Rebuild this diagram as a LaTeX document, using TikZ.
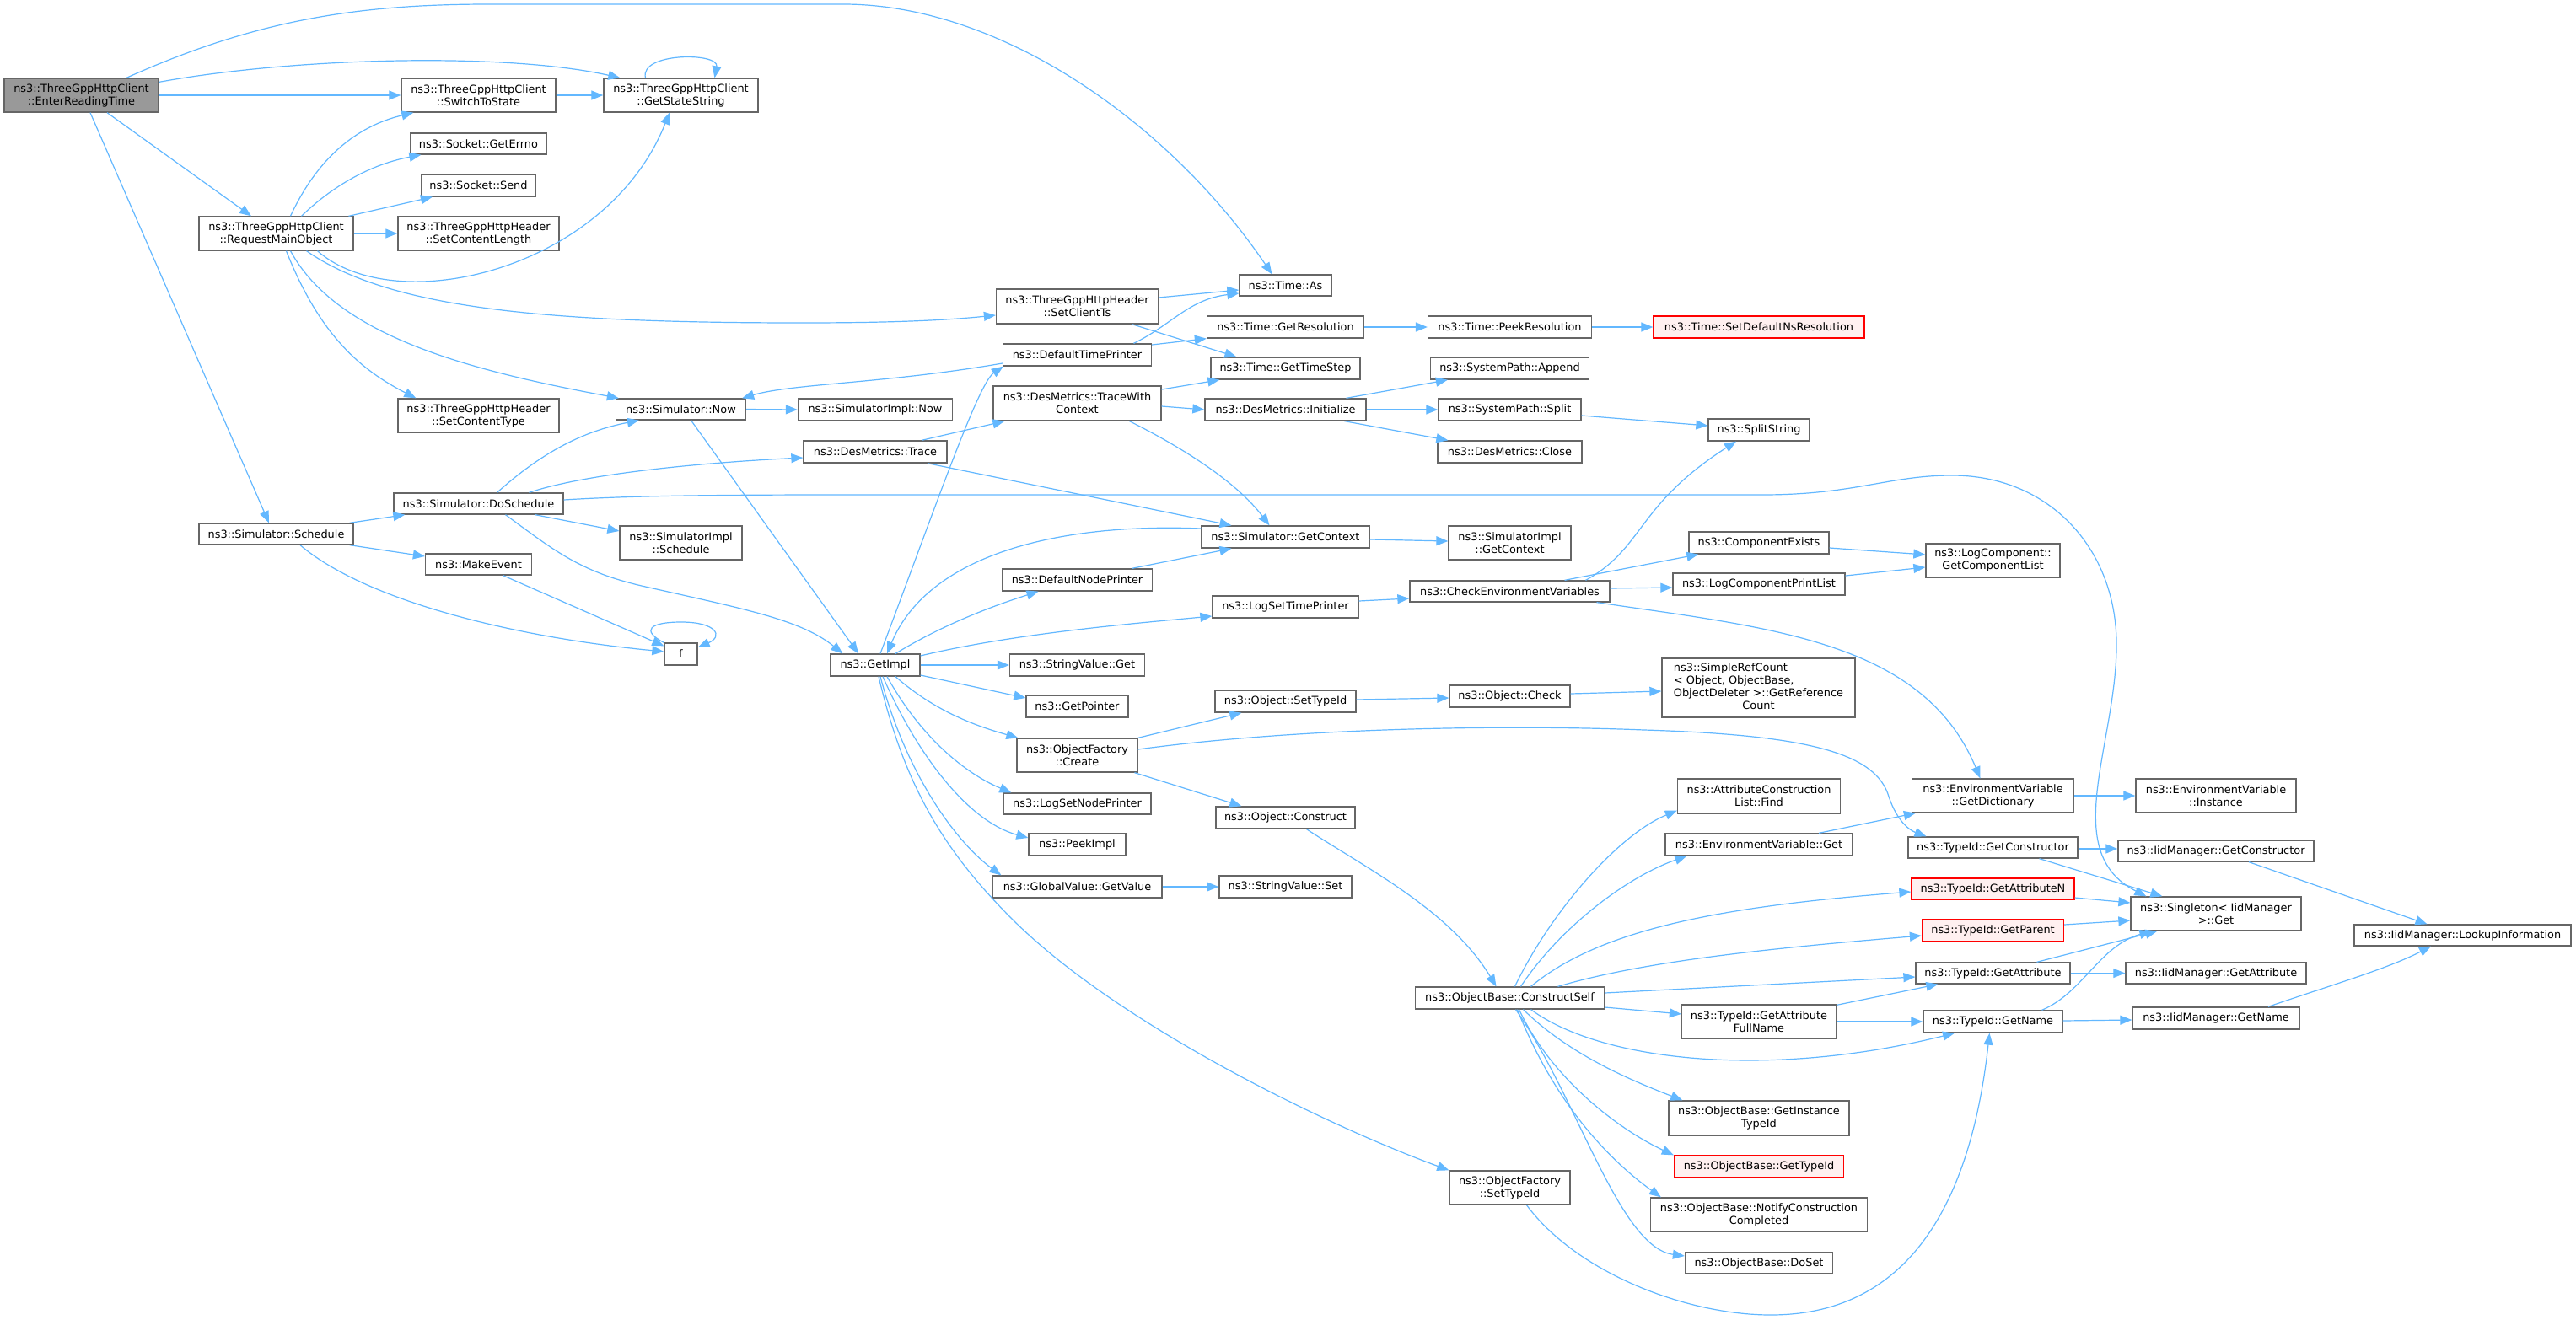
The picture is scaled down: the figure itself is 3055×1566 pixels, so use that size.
\documentclass[tikz,border=0pt]{standalone}
\usepackage{fontspec}
\setmainfont{DejaVu Sans}
\usetikzlibrary{arrows.meta}
\definecolor{edgec}{HTML}{63B8FF}
\definecolor{boxc}{HTML}{666666}
\definecolor{rootc}{HTML}{999999}
\definecolor{redfill}{HTML}{FFF0F0}
\tikzset{
 box/.style={draw=boxc, line width=1.3pt, fill=white, inner sep=0pt, align=center, font=\fontsize{12.9}{15}\selectfont},
 rootbox/.style={box, fill=rootc},
 redbox/.style={box, draw=red},
 redbox/.append style={fill=redfill},
 edge/.style={draw=edgec, line width=1.2pt, -{Triangle[length=14pt,width=11pt]}},
}
\begin{document}
\begin{tikzpicture}[x=1pt,y=-1pt]
\fill[white] (0,0) rectangle (3055,1566);
\useasboundingbox (0,0) rectangle (3055,1566);
% nodes
\node[rootbox,minimum width=183,minimum height=40] (ert) at (96.5,113) {ns3::ThreeGppHttpClient\\::EnterReadingTime};
\node[box,minimum width=183,minimum height=40] (sts) at (567.5,113) {ns3::ThreeGppHttpClient\\::SwitchToState};
\node[box,minimum width=183,minimum height=40] (gss) at (807.5,113) {ns3::ThreeGppHttpClient\\::GetStateString};
\node[box,minimum width=161,minimum height=25] (errno) at (567.5,170.5) {ns3::Socket::GetErrno};
\node[box,minimum width=136,minimum height=26] (send) at (567.5,220) {ns3::Socket::Send};
\node[box,minimum width=183,minimum height=40] (rmo) at (327.5,277) {ns3::ThreeGppHttpClient\\::RequestMainObject};
\node[box,minimum width=191,minimum height=40] (scl) at (567.5,277) {ns3::ThreeGppHttpHeader\\::SetContentLength};
\node[box,minimum width=191,minimum height=40] (sct) at (567.5,493) {ns3::ThreeGppHttpHeader\\::SetContentType};
\node[box,minimum width=154,minimum height=25] (snow) at (807.5,485.5) {ns3::Simulator::Now};
\node[box,minimum width=183,minimum height=26] (sinow) at (1038,486) {ns3::SimulatorImpl::Now};
\node[box,minimum width=183,minimum height=25] (sched) at (327.5,633.5) {ns3::Simulator::Schedule};
\node[box,minimum width=201,minimum height=25] (dosch) at (567.5,597.5) {ns3::Simulator::DoSchedule};
\node[box,minimum width=145,minimum height=40] (sisch) at (807.5,644) {ns3::SimulatorImpl\\::Schedule};
\node[box,minimum width=126,minimum height=25] (mkev) at (567.5,669.5) {ns3::MakeEvent};
\node[box,minimum width=39,minimum height=26] (f) at (807.5,776) {f};
\node[box,minimum width=109,minimum height=25] (timeas) at (1524.5,338.5) {ns3::Time::As};
\node[box,minimum width=192,minimum height=41] (sclts) at (1277.5,363.5) {ns3::ThreeGppHttpHeader\\::SetClientTs};
\node[box,minimum width=186,minimum height=26] (getres) at (1524.5,388) {ns3::Time::GetResolution};
\node[box,minimum width=194,minimum height=26] (peekres) at (1790.5,388) {ns3::Time::PeekResolution};
\node[redbox,minimum width=250,minimum height=26] (setdef) at (2086,388) {ns3::Time::SetDefaultNsResolution};
\node[box,minimum width=176,minimum height=26] (dtp) at (1277.5,421) {ns3::DefaultTimePrinter};
\node[box,minimum width=177,minimum height=26] (gts) at (1524.5,437) {ns3::Time::GetTimeStep};
\node[box,minimum width=188,minimum height=26] (append) at (1790.5,437) {ns3::SystemPath::Append};
\node[box,minimum width=199,minimum height=41] (twc) at (1277.5,478.5) {ns3::DesMetrics::TraceWith\\Context};
\node[box,minimum width=191,minimum height=26] (dminit) at (1524.5,486) {ns3::DesMetrics::Initialize};
\node[box,minimum width=169,minimum height=26] (split) at (1790.5,486) {ns3::SystemPath::Split};
\node[box,minimum width=170,minimum height=26] (dmtrace) at (1038,536) {ns3::DesMetrics::Trace};
\node[box,minimum width=171,minimum height=26] (close) at (1790.5,536) {ns3::DesMetrics::Close};
\node[box,minimum width=120,minimum height=26] (splitstr) at (2086,510) {ns3::SplitString};
\node[box,minimum width=199,minimum height=26] (getctx) at (1524.5,637) {ns3::Simulator::GetContext};
\node[box,minimum width=145,minimum height=40] (sigetctx) at (1790.5,644) {ns3::SimulatorImpl\\::GetContext};
\node[box,minimum width=178,minimum height=26] (dnp) at (1277.5,688) {ns3::DefaultNodePrinter};
\node[box,minimum width=173,minimum height=26] (lstp) at (1524.5,720) {ns3::LogSetTimePrinter};
\node[box,minimum width=237,minimum height=25] (cev) at (1790.5,701.5) {ns3::CheckEnvironmentVariables};
\node[box,minimum width=166,minimum height=26] (compex) at (2086,644) {ns3::ComponentExists};
\node[box,minimum width=159,minimum height=40] (gcl) at (2363.5,665) {ns3::LogComponent::\\GetComponentList};
\node[box,minimum width=204,minimum height=26] (lcpl) at (2086,693) {ns3::LogComponentPrintList};
\node[box,minimum width=106,minimum height=26] (getimpl) at (1038,789) {ns3::GetImpl};
\node[box,minimum width=160,minimum height=26] (svget) at (1277.5,789) {ns3::StringValue::Get};
\node[box,minimum width=121,minimum height=26] (getptr) at (1277.5,838) {ns3::GetPointer};
\node[box,minimum width=167,minimum height=26] (osettid) at (1524.5,832) {ns3::Object::SetTypeId};
\node[box,minimum width=143,minimum height=26] (ocheck) at (1790.5,826) {ns3::Object::Check};
\node[box,minimum width=229,minimum height=70] (srefc) at (2085.5,816) {\begin{tabular}{@{}l@{}}ns3::SimpleRefCount\\< Object, ObjectBase,\\ObjectDeleter >::GetReference\\\multicolumn{1}{@{}c@{}}{Count}\end{tabular}};
\node[box,minimum width=143,minimum height=40] (ofcreate) at (1277.5,896) {ns3::ObjectFactory\\::Create};
\node[box,minimum width=175,minimum height=25] (lsnp) at (1277.5,953.5) {ns3::LogSetNodePrinter};
\node[box,minimum width=165,minimum height=26] (oconstruct) at (1524.5,970) {ns3::Object::Construct};
\node[box,minimum width=115,minimum height=26] (peekimpl) at (1277.5,1002) {ns3::PeekImpl};
\node[box,minimum width=201,minimum height=26] (gvget) at (1277.5,1052) {ns3::GlobalValue::GetValue};
\node[box,minimum width=157,minimum height=26] (svset) at (1524.5,1052) {ns3::StringValue::Set};
\node[box,minimum width=193,minimum height=41] (acfind) at (2086,944.5) {ns3::AttributeConstruction\\List::Find};
\node[box,minimum width=222,minimum height=26] (envget) at (2086,1002) {ns3::EnvironmentVariable::Get};
\node[box,minimum width=192,minimum height=40] (getdict) at (2363.5,944) {ns3::EnvironmentVariable\\::GetDictionary};
\node[box,minimum width=190,minimum height=40] (instance) at (2628,944) {ns3::EnvironmentVariable\\::Instance};
\node[box,minimum width=201,minimum height=25] (tidgetctor) at (2363.5,1005.5) {ns3::TypeId::GetConstructor};
\node[box,minimum width=232,minimum height=25] (iidgetctor) at (2628,1009.5) {ns3::IidManager::GetConstructor};
\node[redbox,minimum width=193,minimum height=25] (getattrn) at (2363.5,1054.5) {ns3::TypeId::GetAttributeN};
\node[box,minimum width=202,minimum height=40] (singleton) at (2628,1084) {ns3::Singleton< IidManager\\>::Get};
\node[redbox,minimum width=168,minimum height=26] (getparent) at (2363.5,1104) {ns3::TypeId::GetParent};
\node[box,minimum width=257,minimum height=25] (lookup) at (2920.5,1109.5) {ns3::IidManager::LookupInformation};
\node[box,minimum width=183,minimum height=25] (tidgetattr) at (2363.5,1154.5) {ns3::TypeId::GetAttribute};
\node[box,minimum width=214,minimum height=25] (iidgetattr) at (2628,1154.5) {ns3::IidManager::GetAttribute};
\node[box,minimum width=183,minimum height=40] (gafn) at (2086,1212) {ns3::TypeId::GetAttribute\\FullName};
\node[box,minimum width=165,minimum height=26] (tidgetname) at (2363.5,1212) {ns3::TypeId::GetName};
\node[box,minimum width=198,minimum height=26] (iidgetname) at (2628,1208) {ns3::IidManager::GetName};
\node[box,minimum width=224,minimum height=26] (cself) at (1790.5,1184) {ns3::ObjectBase::ConstructSelf};
\node[box,minimum width=214,minimum height=41] (gitid) at (2086,1326.5) {ns3::ObjectBase::GetInstance\\TypeId};
\node[redbox,minimum width=201,minimum height=26] (obgettid) at (2086,1384) {ns3::ObjectBase::GetTypeId};
\node[box,minimum width=257,minimum height=40] (notify) at (2086,1441) {ns3::ObjectBase::NotifyConstruction\\Completed};
\node[box,minimum width=175,minimum height=25] (doset) at (2086,1498.5) {ns3::ObjectBase::DoSet};
\node[box,minimum width=143,minimum height=40] (oftid) at (1790.5,1409) {ns3::ObjectFactory\\::SetTypeId};
% edges
\draw[edge] ([xshift=53.5]ert.north) .. controls (300,25) and (420,5) .. (580,5) -- (1000,5) .. controls (1190,5) and (1390,150) .. ([xshift=-16]timeas.north);
\draw[edge] ([yshift=-5]ert.north east) .. controls (350,68) and (600,62) .. ([xshift=20]gss.north west);
\draw[edge] (ert.east) -- (sts.west);
\draw[edge] ([xshift=30.5]ert.south) -- ([xshift=-29.5]rmo.north);
\draw[edge] ([xshift=10.5]ert.south) -- ([xshift=-8.5]sched.north);
\draw[edge] (sts.east) -- (gss.west);
\draw[edge] ([xshift=-42]gss.north) .. controls (758,62) and (853,62) .. ([xshift=40]gss.north);
\draw[edge] ([xshift=17]rmo.north) .. controls (380,180) and (430,148) .. ([xshift=15]sts.south west);
\draw[edge] ([xshift=30]rmo.north) .. controls (395,220) and (440,195) .. ([xshift=13]errno.south west);
\draw[edge] ([xshift=86]rmo.north) -- ([xshift=14]send.south west);
\draw[edge] (rmo.east) -- (scl.west);
\draw[edge] ([xshift=49]rmo.south) .. controls (470,380) and (720,320) .. ([xshift=-13.5]gss.south);
\draw[edge] ([xshift=36]rmo.south) .. controls (460,365) and (640,383) .. (950,383) .. controls (1060,383) and (1120,380) .. ([yshift=-10.5]sclts.west);
\draw[edge] ([xshift=17]rmo.south) .. controls (400,400) and (560,440) .. ([xshift=4]snow.north west);
\draw[edge] ([xshift=12]rmo.south) .. controls (380,400) and (430,440) .. ([xshift=22]sct.north west);
\draw[edge] (snow.east) -- (sinow.west);
\draw[edge] ([xshift=12]snow.south) -- ([xshift=-20]getimpl.north);
\draw[edge] ([xshift=-5]sched.north east) -- ([xshift=14]dosch.south west);
\draw[edge] ([xshift=-5]sched.south east) -- ([yshift=9.5]mkev.west);
\draw[edge] ([xshift=28.5]sched.south) .. controls (430,710) and (600,755) .. ([yshift=3]f.west);
\draw[edge] ([xshift=29]mkev.south) -- ([yshift=-4]f.north west);
\draw[edge] (f.north west) .. controls (760,748) and (770,738) .. (808,738) .. controls (850,738) and (858,755) .. ([yshift=8]f.east);
\draw[edge] ([xshift=22]dosch.north) .. controls (650,530) and (700,510) .. ([xshift=28]snow.south west);
\draw[edge] ([xshift=60]dosch.north) .. controls (700,560) and (850,548) .. ([yshift=-7]dmtrace.west);
\draw[edge] ([yshift=4.5]dosch.east) .. controls (750,588) and (850,587) .. (1000,587) -- (2090,587) .. controls (2200,587) and (2240,564) .. (2315,564) .. controls (2430,564) and (2508,650) .. (2510,760) .. controls (2512,880) and (2440,1010) .. ([xshift=19]singleton.north west);
\draw[edge] ([xshift=67]dosch.south) -- ([yshift=14]sisch.west);
\draw[edge] ([xshift=32]dosch.south) .. controls (660,655) and (690,680) .. (770,697) .. controls (880,722) and (950,735) .. ([xshift=15]getimpl.north west);
\draw[edge] ([xshift=55]dmtrace.north) -- ([xshift=14]twc.south west);
\draw[edge] ([xshift=62]dmtrace.south) -- ([xshift=-64]getctx.north);
\draw[edge] ([yshift=16.5]twc.east) -- ([xshift=11]gts.south west);
\draw[edge] ([yshift=-3.5]twc.east) -- (dminit.west);
\draw[edge] ([xshift=62]twc.south) .. controls (1400,530) and (1465,570) .. ([xshift=-19]getctx.north);
\draw[edge] ([xshift=72]dminit.north) -- ([xshift=21]append.south west);
\draw[edge] (dminit.east) -- (split.west);
\draw[edge] ([xshift=70]dminit.south) -- ([xshift=13]close.north west);
\draw[edge] ([yshift=-7]split.east) -- ([yshift=5]splitstr.west);
\draw[edge] ([yshift=10.5]sclts.east) -- ([yshift=-5.5]timeas.west);
\draw[edge] ([xshift=65]sclts.south) -- ([xshift=31]gts.north west);
\draw[edge] ([xshift=67]dtp.north) .. controls (1390,385) and (1410,355) .. ([yshift=-9.5]timeas.west);
\draw[edge] ([yshift=12]dtp.east) -- (getres.south west);
\draw[edge] ([yshift=-10]dtp.west) .. controls (1050,455) and (940,455) .. ([xshift=-5]snow.north east);
\draw[edge] (getres.east) -- (peekres.west);
\draw[edge] (peekres.east) -- (setdef.west);
\draw[edge] ([xshift=6]getimpl.north) .. controls (1110,600) and (1160,455) .. ([xshift=1]dtp.south west);
\draw[edge] ([yshift=10]getctx.west) .. controls (1250,620) and (1100,660) .. ([xshift=14]getimpl.north);
\draw[edge] ([xshift=24]getimpl.north) .. controls (1120,740) and (1180,718) .. ([xshift=-46]dnp.south);
\draw[edge] ([yshift=11]getimpl.east) .. controls (1200,752) and (1340,740) .. ([yshift=-11]lstp.west);
\draw[edge] (getimpl.east) -- (svget.west);
\draw[edge] ([yshift=-12]getimpl.east) -- ([yshift=10]getptr.west);
\draw[edge] ([xshift=24]getimpl.south) .. controls (1110,845) and (1160,862) .. ([xshift=2]ofcreate.north west);
\draw[edge] ([xshift=14]getimpl.south) .. controls (1095,880) and (1150,920) .. ([xshift=10]lsnp.north west);
\draw[edge] ([xshift=9]getimpl.south) .. controls (1090,900) and (1150,975) .. ([yshift=8]peekimpl.west);
\draw[edge] ([xshift=6]getimpl.south) .. controls (1075,920) and (1135,1000) .. ([xshift=11]gvget.north west);
\draw[edge] ([xshift=4]getimpl.south) .. controls (1070,920) and (1110,1000) .. (1200,1090) .. controls (1320,1210) and (1560,1330) .. (oftid.north west);
\draw[edge] ([xshift=65]dnp.north) -- ([xshift=-64]getctx.south);
\draw[edge] ([yshift=-3]getctx.east) -- ([yshift=2]sigetctx.west);
\draw[edge] ([yshift=7]lstp.east) -- ([yshift=-8.5]cev.west);
\draw[edge] ([xshift=90]cev.north) .. controls (1950,650) and (1940,600) .. ([xshift=-27]splitstr.south);
\draw[edge] ([xshift=65]cev.north) -- ([xshift=12]compex.south west);
\draw[edge] ([yshift=3.5]cev.east) -- ([yshift=-4]lcpl.west);
\draw[edge] ([xshift=103]cev.south) .. controls (2100,745) and (2280,760) .. ([xshift=-15]getdict.north);
\draw[edge] ([yshift=-6]compex.east) -- ([yshift=7]gcl.west);
\draw[edge] ([yshift=10]lcpl.east) -- ([yshift=-8]gcl.west);
\draw[edge] ([yshift=2]osettid.east) -- ([yshift=-2]ocheck.west);
\draw[edge] ([yshift=3]ocheck.east) -- ([yshift=-4]srefc.west);
\draw[edge] (ofcreate.north east) -- ([xshift=32]osettid.south west);
\draw[edge] ([yshift=7]ofcreate.east) .. controls (1550,862) and (1800,860) .. (1950,866) .. controls (2150,872) and (2225,895) .. (2240,945) .. controls (2250,975) and (2265,985) .. ([xshift=-79]tidgetctor.north);
\draw[edge] ([xshift=68]ofcreate.south) -- ([xshift=31]oconstruct.north west);
\draw[edge] ([xshift=25]oconstruct.south) .. controls (1620,1030) and (1720,1080) .. ([xshift=-16]cself.north);
\draw[edge] (gvget.east) -- (svset.west);
\draw[edge] ([xshift=6]cself.north) .. controls (1840,1080) and (1920,990) .. ([yshift=4]acfind.south west);
\draw[edge] ([xshift=13]cself.north) .. controls (1850,1100) and (1930,1040) .. ([xshift=26]envget.south west);
\draw[edge] ([xshift=25]cself.north) .. controls (1900,1100) and (2050,1075) .. ([yshift=-3.5]getattrn.west);
\draw[edge] ([xshift=57]cself.north) .. controls (1950,1140) and (2100,1125) .. ([yshift=-6]getparent.west);
\draw[edge] ([yshift=6]cself.east) -- ([yshift=-4.5]tidgetattr.west);
\draw[edge] ([yshift=-11]cself.east) -- ([yshift=9]gafn.west);
\draw[edge] ([xshift=25]cself.south) .. controls (1900,1260) and (2100,1280) .. ([xshift=-45.5]tidgetname.south);
\draw[edge] ([xshift=16]cself.south) .. controls (1860,1250) and (1930,1280) .. ([xshift=17]gitid.north west);
\draw[edge] ([xshift=11]cself.south) .. controls (1840,1280) and (1920,1340) .. (obgettid.north west);
\draw[edge] ([xshift=9]cself.south) .. controls (1840,1300) and (1900,1370) .. ([xshift=13]notify.north west);
\draw[edge] ([xshift=7]cself.south) .. controls (1870,1300) and (1920,1480) .. ([yshift=8.5]doset.west);
\draw[edge] ([xshift=20]oftid.south) .. controls (1870,1510) and (2000,1560) .. (2100,1560) .. controls (2280,1560) and (2340,1400) .. ([xshift=-4]tidgetname.south);
\draw[edge] ([xshift=71]envget.north) -- ([xshift=5]getdict.south west);
\draw[edge] (getdict.east) -- (instance.west);
\draw[edge] ([yshift=-1.5]tidgetctor.east) -- ([yshift=2.5]iidgetctor.west);
\draw[edge] ([xshift=55]tidgetctor.south) -- ([xshift=38]singleton.north west);
\draw[edge] ([xshift=39]iidgetctor.south) -- ([xshift=-42]lookup.north);
\draw[edge] ([yshift=-10.5]getattrn.east) -- ([yshift=13]singleton.west);
\draw[edge] ([yshift=7]getparent.east) -- ([yshift=-8]singleton.west);
\draw[edge] ([xshift=52]tidgetattr.north) -- ([xshift=32]singleton.south west);
\draw[edge] (tidgetattr.east) -- (iidgetattr.west);
\draw[edge] ([yshift=-1]gafn.north east) -- ([xshift=27]tidgetattr.south west);
\draw[edge] (gafn.east) -- (tidgetname.west);
\draw[edge] ([xshift=58]tidgetname.north) .. controls (2470,1178) and (2490,1122) .. ([xshift=25]singleton.south west);
\draw[edge] ([yshift=1]tidgetname.east) -- ([yshift=-2]iidgetname.west);
\draw[edge] ([xshift=62]iidgetname.north) .. controls (2760,1170) and (2830,1150) .. ([xshift=-37.5]lookup.south);
\end{tikzpicture}
\end{document}
